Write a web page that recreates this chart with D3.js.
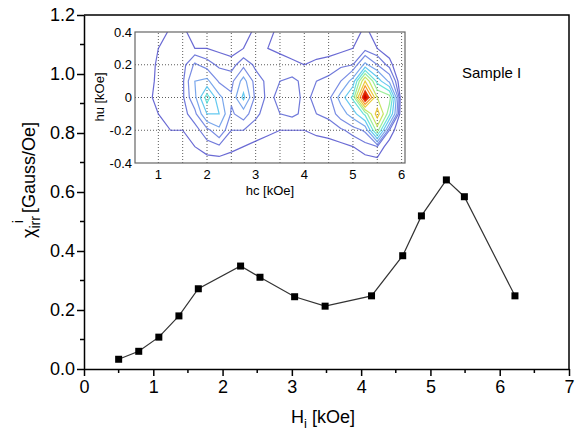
<!DOCTYPE html>
<html lang="en">
<head>
<meta charset="UTF-8">
<title>Sample I</title>
<script src="https://d3js.org/d3.v7.min.js"></script>
<style>
    body { margin: 0; background: #fff; }
    svg { display: block; font-family: Arial, 'Liberation Sans', sans-serif; }
    .axis path, .axis line { stroke: #000; stroke-width: 1.5px; }
    .axis text { font-size: 18px; fill: #000; }
    .inset text { font-size: 13px; fill: #000; }
</style>
</head>
<body>
<svg width="578" height="434"></svg>
<script>
    // main curve: H_i [kOe] vs chi_irr^i [Gauss/Oe]
    const hi = [0.50, 0.79, 1.08, 1.37, 1.65, 2.26, 2.54, 3.04, 3.48, 4.15, 4.60, 4.87, 5.23, 5.49, 6.22];
    const chi = [0.033, 0.060, 0.108, 0.180, 0.272, 0.349, 0.311, 0.245, 0.213, 0.248, 0.384, 0.519, 0.641, 0.584, 0.248];
    const xTicks = [0, 1, 2, 3, 4, 5, 6, 7];
    const yTicks = [0, 0.2, 0.4, 0.6, 0.8, 1.0, 1.2];

    // inset FORC grid: hc columns, hu rows (top row first)
    const hcGrid = [0.5, 0.75, 1.0, 1.25, 1.5, 1.75, 2.0, 2.25, 2.5, 2.75, 3.0, 3.25, 3.5, 3.75, 4.0, 4.25, 4.5, 4.75, 5.0, 5.25, 5.5, 5.75, 6.0];
    const huGrid = [0.4, 0.3, 0.2, 0.1, 0.0, -0.1, -0.2, -0.3, -0.4];
    const rho = [
        [0,   0,   0.3, 0.7, 0.7, 0.4, 0.3, 0.3, 0.3, 0.4, 0.7, 0.7, 0.5, 0.4, 0.3, 0.3, 0.3, 0.3, 0.4, 0.7, 0.4, 0.2, 0],
        [0,   0.2, 0.6, 0.8, 0.7, 0.6, 0.6, 0.5, 0.4, 0.6, 0.7, 0.6, 0.5, 0.4, 0.4, 0.4, 0.4, 0.5, 0.6, 0.8, 0.6, 0.3, 0],
        [0,   0.3, 0.7, 0.8, 0.8, 1.6, 1.2, 0.9, 0.8, 1.3, 0.9, 0.8, 0.8, 0.7, 0.6, 0.7, 0.8, 0.9, 1.0, 2.4, 1.5, 0.8, 0],
        [0,   0.4, 0.7, 0.8, 0.9, 2.2, 2.4, 1.4, 1.3, 2.5, 1.2, 0.9, 1.0, 1.1, 0.9, 1.0, 1.1, 1.5, 2.5, 6.5, 3.5, 2.0, 0],
        [0.3, 0.5, 0.7, 0.8, 0.9, 2.0, 4.2, 2.4, 1.6, 3.2, 1.3, 0.9, 1.1, 1.2, 0.9, 1.1, 1.3, 2.5, 4.0, 10,  5.5, 5.0, 0],
        [0.4, 0.5, 0.6, 0.7, 0.8, 1.3, 3.0, 3.0, 1.4, 1.8, 1.1, 0.8, 1.0, 1.1, 0.9, 1.0, 1.1, 1.8, 2.6, 4.0, 7.0, 4.0, 0],
        [0.3, 0.4, 0.5, 0.6, 0.6, 0.8, 1.3, 2.0, 1.0, 1.0, 0.8, 0.7, 0.6, 0.6, 0.6, 0.7, 0.8, 0.9, 1.2, 1.6, 5.0, 1.0, 0],
        [0,   0.2, 0.5, 0.5, 0.5, 0.6, 0.8, 0.9, 0.7, 0.6, 0.5, 0.4, 0.4, 0.4, 0.4, 0.4, 0.4, 0.5, 0.6, 0.8, 1.0, 0.3, 0],
        [0,   0,   0.4, 0.4, 0.4, 0.4, 0.4, 0.4, 0.4, 0.3, 0.3, 0.3, 0.3, 0.3, 0.3, 0.3, 0.3, 0.3, 0.4, 0.4, 0.4, 0.2, 0]
    ];
    const levels = [0.6, 1.0, 1.5, 2.2, 3, 3.8, 4.6, 5.5, 6.5, 7.5, 8.5, 9.5];
    const insetXTicks = [1, 2, 3, 4, 5, 6];
    const insetYTicks = [0.4, 0.2, 0, -0.2, -0.4];

    const svg = d3.select("svg");

    const x = d3.scaleLinear().domain([0, 7]).range([84, 569]);
    const y = d3.scaleLinear().domain([0, 1.2]).range([369, 15]);

    // minor ticks
    svg.append("g").selectAll("line")
        .data(d3.range(0.5, 7, 1))
        .join("line")
        .attr("x1", d => x(d)).attr("x2", d => x(d))
        .attr("y1", y(0)).attr("y2", y(0) + 4)
        .attr("stroke", "#000").attr("stroke-width", 1.5);
    svg.append("g").selectAll("line")
        .data(d3.range(0.1, 1.2, 0.2))
        .join("line")
        .attr("x1", x(0)).attr("x2", x(0) - 4)
        .attr("y1", d => y(d)).attr("y2", d => y(d))
        .attr("stroke", "#000").attr("stroke-width", 1.5);

    svg.append("g")
        .attr("class", "axis")
        .attr("transform", `translate(0,${y(0)})`)
        .call(d3.axisBottom(x).tickValues(xTicks).tickSize(7).tickSizeOuter(0).tickPadding(4).tickFormat(d3.format("d")));

    svg.append("g")
        .attr("class", "axis")
        .attr("transform", `translate(${x(0)},0)`)
        .call(d3.axisLeft(y).tickValues(yTicks).tickSize(7).tickSizeOuter(0).tickPadding(2).tickFormat(d3.format(".1f")));

    // frame top and right
    svg.append("path")
        .attr("d", `M${x(0)},${y(1.2)}H${x(7)}V${y(0)}`)
        .attr("fill", "none").attr("stroke", "#000").attr("stroke-width", 1.5);

    // curve
    const pts = hi.map((h, i) => [h, chi[i]]);
    svg.append("path")
        .datum(pts)
        .attr("fill", "none")
        .attr("stroke", "#333")
        .attr("stroke-width", 1.2)
        .attr("d", d3.line().x(d => x(d[0])).y(d => y(d[1])));

    svg.append("g").selectAll("rect")
        .data(pts)
        .join("rect")
        .attr("x", d => x(d[0]) - 3.5)
        .attr("y", d => y(d[1]) - 3.5)
        .attr("width", 7).attr("height", 7)
        .attr("fill", "#000");

    // axis titles
    const xt = svg.append("text")
        .attr("x", 323).attr("y", 423)
        .attr("text-anchor", "middle")
        .attr("font-size", 18);
    xt.append("tspan").text("H");
    xt.append("tspan").attr("font-size", 13).attr("dy", 5).text("i");
    xt.append("tspan").attr("dy", -5).text(" [kOe]");

    const yt = svg.append("text")
        .attr("transform", "translate(35,180) rotate(-90)")
        .attr("text-anchor", "middle")
        .attr("font-size", 18);
    yt.append("tspan").text("χ");
    yt.append("tspan").attr("font-size", 14).attr("dy", 5).text("irr");
    yt.append("tspan").attr("font-size", 14).attr("dx", -7).attr("dy", -17).text("i");
    yt.append("tspan").attr("dx", 2).attr("dy", 12).text(" [Gauss/Oe]");

    svg.append("text")
        .attr("x", 462).attr("y", 78)
        .attr("font-size", 15)
        .text("Sample I");

    // inset
    const ix = d3.scaleLinear().domain([0.52, 6.07]).range([135, 405]);
    const iy = d3.scaleLinear().domain([-0.4, 0.4]).range([163, 32]);
    const inset = svg.append("g").attr("class", "inset");

    inset.append("rect")
        .attr("x", ix.range()[0]).attr("y", iy.range()[1])
        .attr("width", ix.range()[1] - ix.range()[0])
        .attr("height", iy.range()[0] - iy.range()[1])
        .attr("fill", "#fff");

    inset.append("defs").append("clipPath").attr("id", "iclip")
        .append("rect")
        .attr("x", ix.range()[0]).attr("y", iy.range()[1])
        .attr("width", ix.range()[1] - ix.range()[0])
        .attr("height", iy.range()[0] - iy.range()[1]);

    // dotted grid
    inset.append("g").selectAll("line")
        .data(d3.range(1, 6.01, 0.5))
        .join("line")
        .attr("x1", d => ix(d)).attr("x2", d => ix(d))
        .attr("y1", iy(-0.4)).attr("y2", iy(0.4))
        .attr("stroke", "#333").attr("stroke-width", 0.8).attr("stroke-dasharray", "1,2");
    inset.append("g").selectAll("line")
        .data([-0.2, 0, 0.2])
        .join("line")
        .attr("x1", ix.range()[0]).attr("x2", ix.range()[1])
        .attr("y1", d => iy(d)).attr("y2", d => iy(d))
        .attr("stroke", "#333").attr("stroke-width", 0.8).attr("stroke-dasharray", "1,2");

    // contours
    const nx = hcGrid.length, ny = huGrid.length;
    const values = rho.flat();
    const dh = hcGrid[1] - hcGrid[0], du = huGrid[0] - huGrid[1];
    const proj = d3.geoTransform({
        point: function (gx, gy) {
            this.stream.point(ix(hcGrid[0] + dh * (gx - 0.5)), iy(huGrid[0] - du * (gy - 0.5)));
        }
    });
    const color = d3.scaleLinear()
        .domain([0.6, 2, 3.5, 5, 7, 9])
        .range(["#5050cc", "#6a8ee8", "#38d8f0", "#a8f060", "#ffb000", "#d80000"]);
    const cs = d3.contours().size([nx, ny]).thresholds(levels)(values);
    inset.append("g")
        .attr("clip-path", "url(#iclip)")
        .selectAll("path")
        .data(cs)
        .join("path")
        .attr("d", d3.geoPath(proj))
        .attr("fill", d => d.value >= 8 ? color(d.value) : "none")
        .attr("stroke", d => color(d.value))
        .attr("stroke-width", 1.2)
        .attr("stroke-opacity", 0.85);

    inset.append("rect")
        .attr("x", ix.range()[0]).attr("y", iy.range()[1])
        .attr("width", ix.range()[1] - ix.range()[0])
        .attr("height", iy.range()[0] - iy.range()[1])
        .attr("fill", "none").attr("stroke", "#666").attr("stroke-width", 1.2);

    inset.append("g").selectAll("text")
        .data(insetXTicks)
        .join("text")
        .attr("x", d => ix(d)).attr("y", 179)
        .attr("text-anchor", "middle")
        .text(d => d);
    inset.append("g").selectAll("text")
        .data(insetYTicks)
        .join("text")
        .attr("x", 132).attr("y", d => iy(d) + 4.5)
        .attr("text-anchor", "end")
        .text(d => d3.format("")(d).replace("−", "-"));

    inset.append("text")
        .attr("x", 270).attr("y", 195)
        .attr("text-anchor", "middle")
        .text("hc [kOe]");
    inset.append("text")
        .attr("transform", "translate(104,97) rotate(-90)")
        .attr("text-anchor", "middle")
        .text("hu [kOe]");
</script>
</body>
</html>
